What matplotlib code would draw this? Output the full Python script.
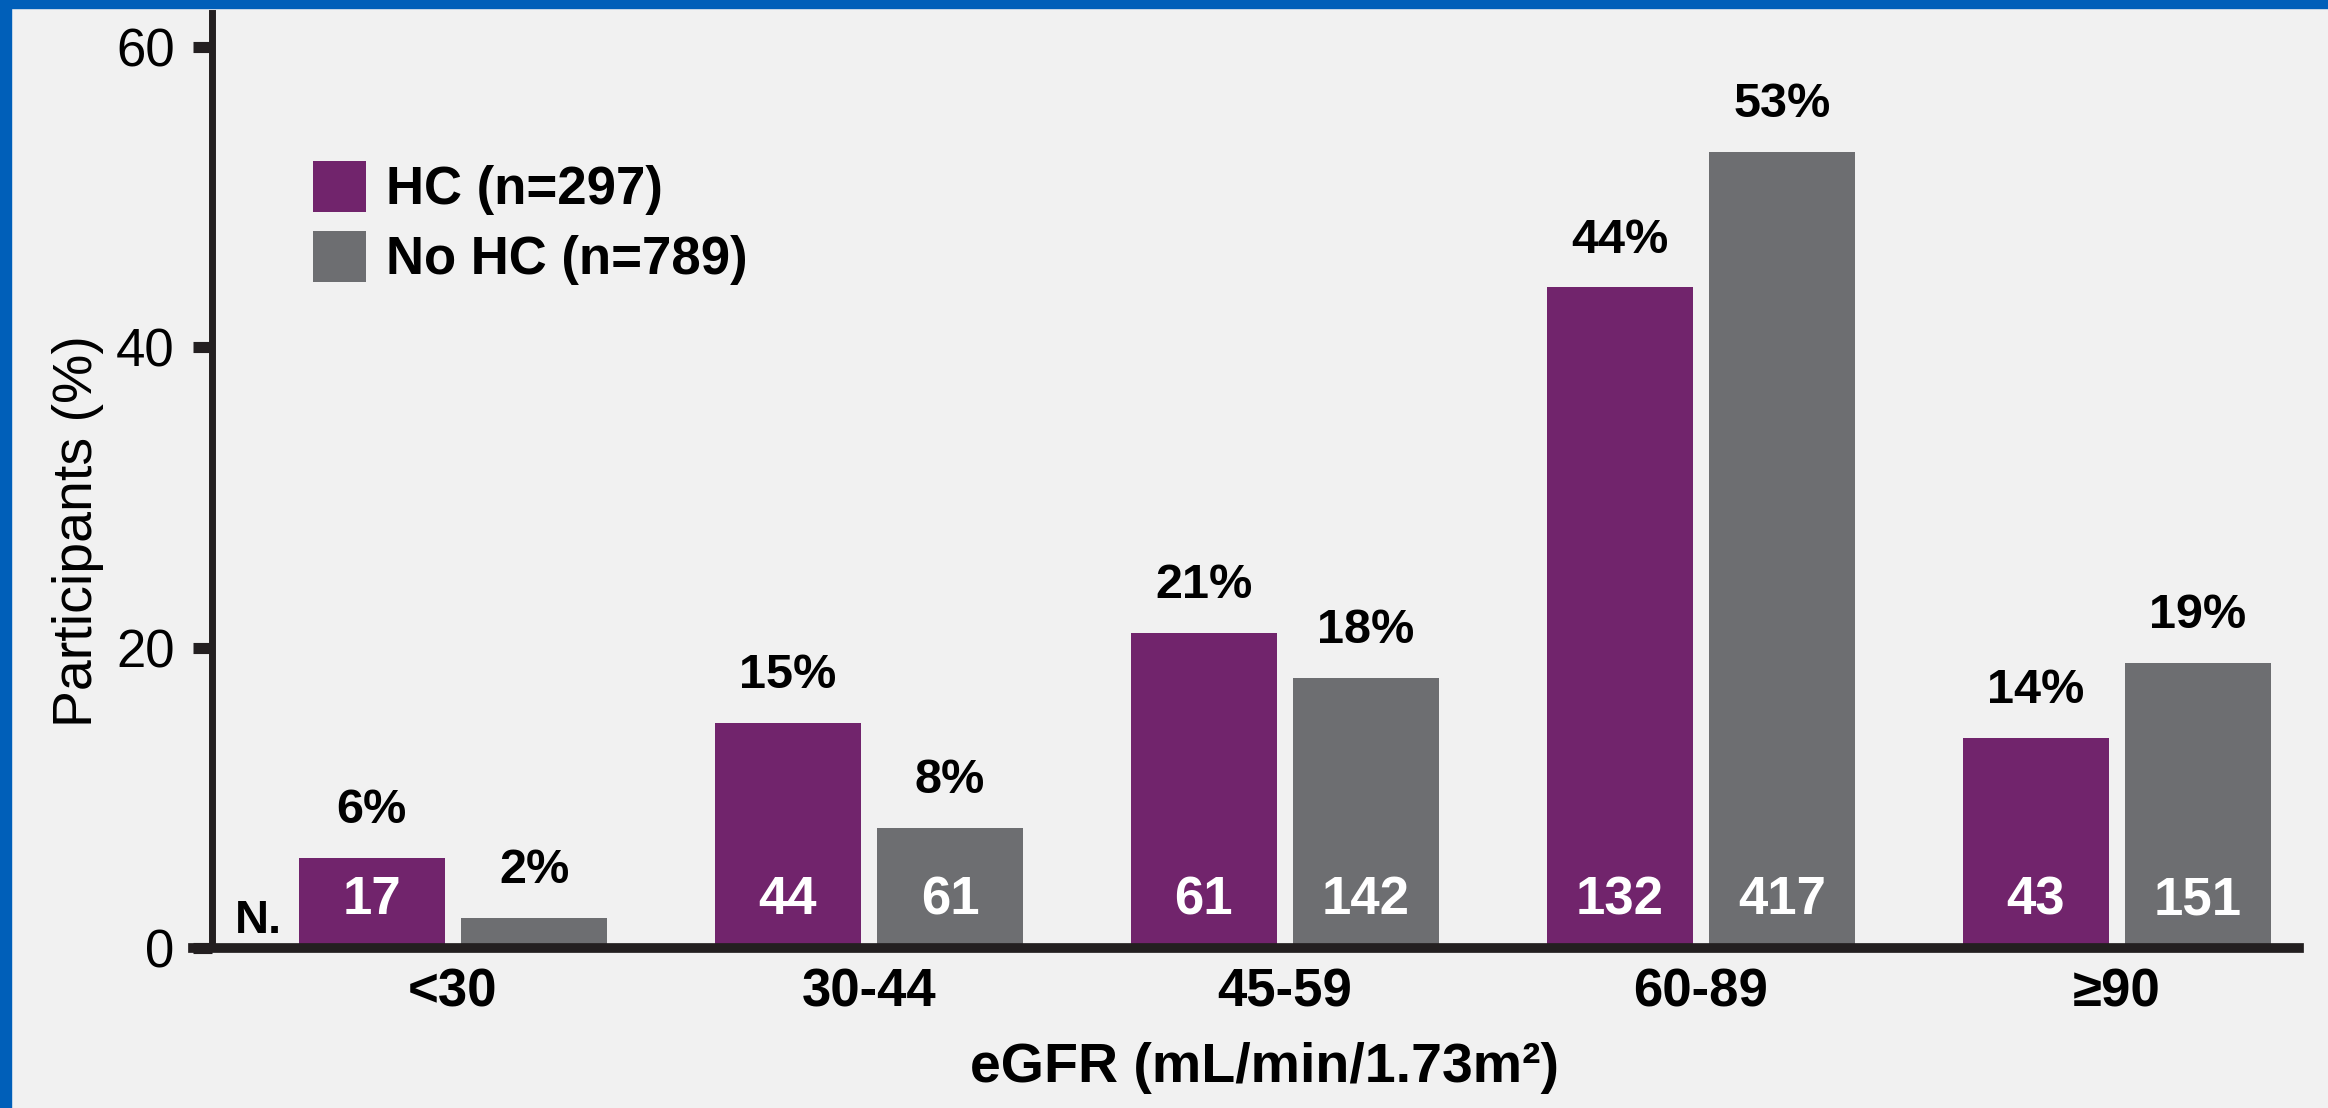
import matplotlib.pyplot as plt
import numpy as np
from matplotlib.patches import Rectangle

# Data
groups = ['<30', '30-44', '45-59', '60-89', '≥90']
hc_pct = [6, 15, 21, 44, 14]
no_hc_pct = [2, 8, 18, 53, 19]
hc_n = [17, 44, 61, 132, 43]
no_hc_n = [None, 61, 142, 417, 151]
series_labels = ['HC (n=297)', 'No HC (n=789)']

purple = '#71246C'
gray = '#6D6E71'
bg = '#F1F1F1'
ink = '#231F20'
blue = '#005FB9'

sans = ['Liberation Sans', 'DejaVu Sans']

W, H = 2328, 1108
fig = plt.figure(figsize=(W / 100, H / 100), dpi=100, facecolor=bg)

# axes box in pixels: left 193, right 2299, top 13, bottom 948
ax = fig.add_axes([193 / W, 1 - 948 / H, (2299 - 193) / W, (948 - 13) / H])
ax.set_facecolor(bg)

x = np.arange(len(groups))
width = 0.351
offset = 0.195

bars_hc = ax.bar(x - offset, hc_pct, width, color=purple, label=series_labels[0], zorder=2)
bars_no = ax.bar(x + offset, no_hc_pct, width, color=gray, label=series_labels[1], zorder=2)

ax.set_xlim(-0.625, 4.438)
ax.set_ylim(0, 62.27)

# percentage labels above bars
for bars, vals in [(bars_hc, hc_pct), (bars_no, no_hc_pct)]:
    for b, v in zip(bars, vals):
        ax.annotate(f'{v}%', (b.get_x() + b.get_width() / 2, v),
                    xytext=(0, 25), textcoords='offset points',
                    ha='center', va='baseline', fontsize=35,
                    fontweight='bold', family=sans, color='black')

# counts inside bars
for bars, ns in [(bars_hc, hc_n), (bars_no, no_hc_n)]:
    for b, n in zip(bars, ns):
        if n is None:
            continue
        ax.text(b.get_x() + b.get_width() / 2, 2.25, str(n),
                ha='center', va='baseline', fontsize=38,
                fontweight='bold', family=sans, color='white', zorder=3)

ax.text(-0.524, 1.0, 'N.', ha='left', va='baseline', fontsize=34,
        fontweight='bold', family=sans, color='black')

# spines and ticks
for s in ['top', 'right']:
    ax.spines[s].set_visible(False)
ax.spines['left'].set_position(('data', -0.579))
ax.spines['left'].set_linewidth(5)
ax.spines['left'].set_color(ink)
ax.spines['bottom'].set_linewidth(7)
ax.spines['bottom'].set_color(ink)
ax.spines['bottom'].set_zorder(4)

ax.set_yticks([0, 20, 40, 60])
ax.tick_params(axis='y', length=14, width=8, color=ink, pad=13,
               labelsize=38)
for t in ax.get_yticklabels():
    t.set_family(sans)

ax.set_xticks(x)
ax.set_xticklabels(groups, fontsize=38, fontweight='bold', family=sans)
ax.tick_params(axis='x', length=0, pad=14)

ax.legend(loc='upper left', bbox_to_anchor=(313 / W, 1 - 161 / H),
          bbox_transform=fig.transFigure, frameon=False,
          prop={'family': sans, 'weight': 'bold', 'size': 38},
          handlelength=1.0, handleheight=1.1, handletextpad=0.38,
          labelspacing=0.3, borderpad=0, borderaxespad=0)

fig.text(78 / W, 1 - 531 / H, 'Participants (%)', rotation=90,
         ha='center', va='center', fontsize=40, family=sans)
fig.text(1265 / W, 1 - 1082 / H, 'eGFR (mL/min/1.73m²)', ha='center',
         va='baseline', fontsize=40, fontweight='bold', family=sans)

# blue frame on top and left edges
fig.patches.append(Rectangle((0, 1 - 8 / H), 1, 8 / H, transform=fig.transFigure,
                             color=blue, zorder=10))
fig.patches.append(Rectangle((0, 0), 11 / W, 1, transform=fig.transFigure,
                             color=blue, zorder=10))

fig.savefig('out.png', dpi=100, facecolor=bg)
